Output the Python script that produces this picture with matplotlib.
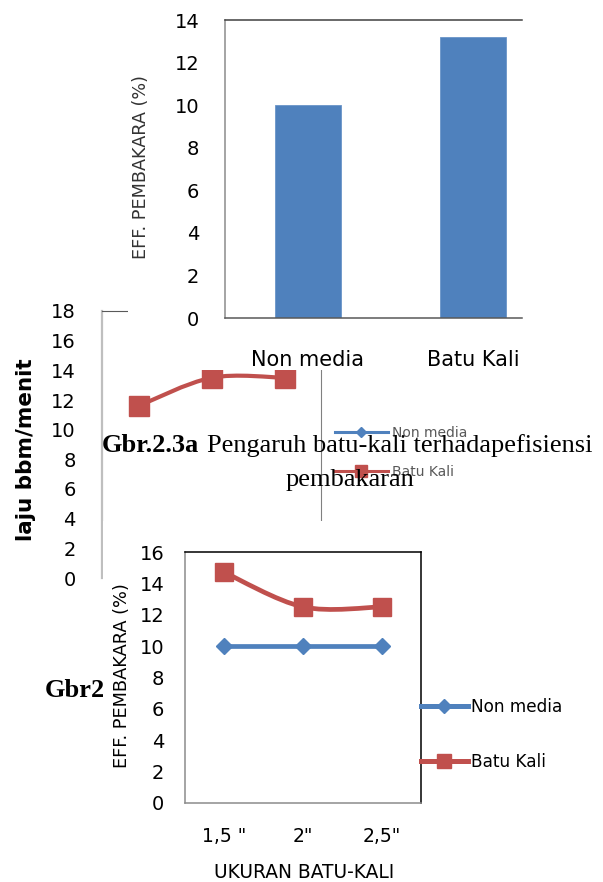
import matplotlib
matplotlib.use("Agg")
import matplotlib.pyplot as plt
from matplotlib.path import Path
from matplotlib.patches import PathPatch, Rectangle
from matplotlib.lines import Line2D

# ---------------- data ----------------
bar_categories = ["Non media", "Batu Kali"]
bar_values = [10.0, 13.2]

laju_sizes = ["1,5 \"", "2\"", "2,5\""]
laju_batu_kali = [11.6, 13.5, 13.5]

eff_sizes = ["1,5 \"", "2\"", "2,5\""]
eff_non_media = [10.0, 10.0, 10.0]
eff_batu_kali = [14.7, 12.5, 12.5]

series_names = ["Non media", "Batu Kali"]
caption_bold = "Gbr.2.3a"
caption_rest = "Pengaruh batu-kali terhadapefisiensi"
caption_line2 = "pembakaran"
caption_b = "Gbr2.3b"

BLUE = "#4F81BD"
RED = "#C0504D"

W, H = 603, 882
plt.rcParams["font.family"] = ["DejaVu Sans"]
fig = plt.figure(figsize=(W / 100, H / 100), dpi=100)
fig.patch.set_facecolor("white")


def axes_px(x0, y0, x1, y1, z):
    ax = fig.add_axes([x0 / W, 1 - y1 / H, (x1 - x0) / W, (y1 - y0) / H])
    ax.set_zorder(z)
    return ax


def fy(y):
    return 1 - y / H


def smooth_path(xs, ys):
    pts = list(zip(xs, ys))
    n = len(pts)
    verts = [pts[0]]
    codes = [Path.MOVETO]
    for i in range(n - 1):
        p0 = pts[i - 1] if i > 0 else pts[i]
        p1 = pts[i]
        p2 = pts[i + 1]
        p3 = pts[i + 2] if i + 2 < n else pts[i + 1]
        c1 = (p1[0] + (p2[0] - p0[0]) / 6, p1[1] + (p2[1] - p0[1]) / 6)
        c2 = (p2[0] - (p3[0] - p1[0]) / 6, p2[1] - (p3[1] - p1[1]) / 6)
        verts += [c1, c2, p2]
        codes += [Path.CURVE4] * 3
    return Path(verts, codes)


def rect_px(x0, y0, x1, y1, z):
    r = Rectangle((x0 / W, 1 - y1 / H), (x1 - x0) / W, (y1 - y0) / H,
                  transform=fig.transFigure, facecolor="white",
                  edgecolor="none", zorder=z)
    fig.add_artist(r)


# ---------------- chart 2 : laju bbm/menit (underneath) ----------------
ax2 = axes_px(102, 311, 321, 578, 1)
ax2.set_facecolor("none")
x2 = list(range(len(laju_sizes)))
ax2.add_patch(PathPatch(smooth_path(x2, laju_batu_kali), fill=False,
                        edgecolor=RED, lw=3.0, capstyle="round"))
ax2.plot(x2, laju_batu_kali, ls="none", marker="s", ms=14.5, color=RED)
ax2.set_xlim(-0.5, 2.5)
ax2.set_ylim(0, 18)
ax2.set_yticks(range(0, 19, 2))
ax2.set_xticks([])
ax2.tick_params(axis="y", length=0, pad=19, labelsize=14)
ax2.spines["left"].set_color("#BFBFBF")
ax2.spines["left"].set_linewidth(1.6)
ax2.spines["top"].set_color("#595959")
ax2.spines["right"].set_color("#808080")
ax2.spines["bottom"].set_visible(False)
ax2.set_ylabel("laju bbm/menit", fontsize=15.5, fontweight="bold",
               va="center", ha="center")
ax2.yaxis.set_label_coords(26 / W, fy(450), transform=fig.transFigure)
h2 = [Line2D([], [], color=BLUE, lw=2.2, marker="D", ms=5),
      Line2D([], [], color=RED, lw=2.2, marker="s", ms=8)]
leg2 = ax2.legend(h2, series_names, loc="center left",
                  bbox_to_anchor=(335 / W, fy(452.5)),
                  bbox_transform=fig.transFigure, frameon=False,
                  fontsize=10, handlelength=3.8, handletextpad=0.3,
                  labelspacing=1.75, borderpad=0, borderaxespad=0)
for t in leg2.get_texts():
    t.set_color("#595959")

# ---------------- caption (over chart 2) ----------------
fig.text(102 / W, fy(452), caption_bold, family="Liberation Serif",
         fontweight="bold", fontsize=19, ha="left", va="baseline", zorder=2)
fig.text(207 / W, fy(452), caption_rest, family="Liberation Serif",
         fontsize=19, ha="left", va="baseline", zorder=2)
fig.text(350 / W, fy(486), caption_line2, family="Liberation Serif",
         fontsize=19, ha="center", va="baseline", zorder=2)

# ---------------- chart 1 : bar chart ----------------
rect_px(128, 0, W, 370, 3)
ax1 = axes_px(225, 20, 522, 318, 4)
ax1.set_facecolor("none")
x1 = list(range(len(bar_categories)))
ax1.bar(x1, bar_values, width=0.4, color=BLUE, edgecolor="#6A94C8",
        linewidth=0.6)
ax1.set_xlim(-0.503, 1.297)
ax1.set_ylim(0, 14)
ax1.set_yticks(range(0, 15, 2))
ax1.set_xticks(x1)
ax1.set_xticklabels(bar_categories)
ax1.tick_params(axis="y", length=0, pad=18.5, labelsize=14)
ax1.tick_params(axis="x", length=0, pad=23, labelsize=15)
ax1.spines["left"].set_color("#8C8C8C")
ax1.spines["top"].set_color("#404040")
ax1.spines["bottom"].set_color("#595959")
ax1.spines["right"].set_visible(False)
for s in ax1.spines.values():
    s.set_linewidth(1.1)
ax1.set_ylabel("EFF. PEMBAKARA (%)", fontsize=12.7, color="#333333",
               va="center", ha="center")
ax1.yaxis.set_label_coords(141 / W, fy(167), transform=fig.transFigure)

# ---------------- "Gbr2" text, partially hidden ----------------
fig.text(45 / W, fy(697), caption_b, family="Liberation Serif",
         fontweight="bold", fontsize=19, ha="left", va="baseline", zorder=5)

# ---------------- chart 3 : EFF vs ukuran ----------------
rect_px(103, 521, W, H, 6)
ax3 = axes_px(185, 552, 421, 803, 7)
ax3.set_facecolor("none")
x3 = list(range(len(eff_sizes)))
ax3.plot(x3, eff_non_media, color=BLUE, lw=3.4, marker="D", ms=8.6,
         solid_capstyle="round")
ax3.add_patch(PathPatch(smooth_path(x3, eff_batu_kali), fill=False,
                        edgecolor=RED, lw=3.4, capstyle="round"))
ax3.plot(x3, eff_batu_kali, ls="none", marker="s", ms=12.3, color=RED)
ax3.set_xlim(-0.5, 2.5)
ax3.set_ylim(0, 16)
ax3.set_yticks(range(0, 17, 2))
ax3.set_xticks(x3)
ax3.set_xticklabels(eff_sizes)
ax3.tick_params(axis="y", length=0, pad=15, labelsize=14)
ax3.tick_params(axis="x", length=0, pad=17, labelsize=13.5)
ax3.spines["left"].set_color("#8C8C8C")
ax3.spines["bottom"].set_color("#8C8C8C")
ax3.spines["top"].set_color("#000000")
ax3.spines["right"].set_color("#000000")
for s in ax3.spines.values():
    s.set_linewidth(1.1)
ax3.set_ylabel("EFF. PEMBAKARA (%)", fontsize=12.8, va="center", ha="center")
ax3.yaxis.set_label_coords(122 / W, fy(676), transform=fig.transFigure)
ax3.set_xlabel("UKURAN BATU-KALI", fontsize=13.4, va="center", ha="center")
ax3.xaxis.set_label_coords(304 / W, fy(873), transform=fig.transFigure)
h3 = [Line2D([], [], color=BLUE, lw=3.6, marker="D", ms=7.6),
      Line2D([], [], color=RED, lw=3.6, marker="s", ms=9.6)]
ax3.legend(h3, series_names, loc="center left",
           bbox_to_anchor=(421 / W, fy(734.5)),
           bbox_transform=fig.transFigure, frameon=False,
           fontsize=12.2, handlelength=2.75, handletextpad=0.2,
           labelspacing=2.15, borderpad=0, borderaxespad=0)

fig.savefig("out.png", dpi=100, facecolor="white")
